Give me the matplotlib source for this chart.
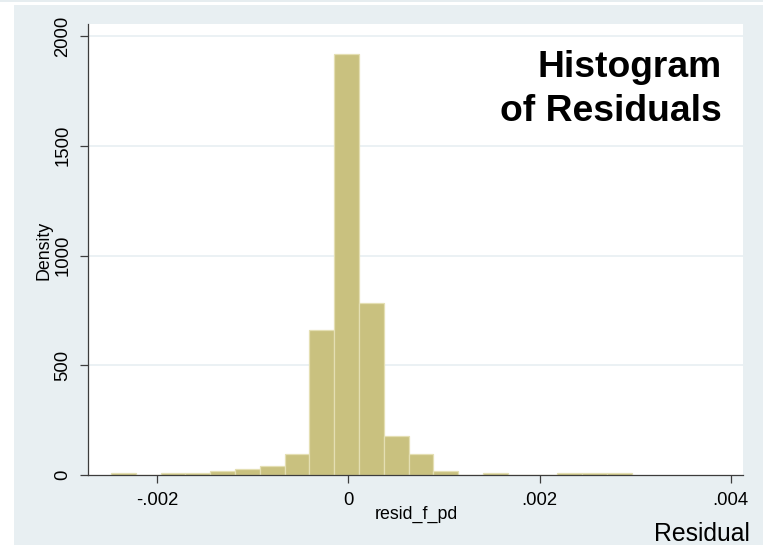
import matplotlib
matplotlib.use("Agg")
import matplotlib.pyplot as plt
from matplotlib.patches import Rectangle

# ---- data ----
bin_start = -0.002482
bin_width = 0.0002594
densities = [8.6, 0, 8.6, 8.6, 17.2, 25.8, 43, 94, 660, 1918, 786, 176, 94, 17.2, 0, 8.6, 0, 0, 8.6, 8.6, 8.6]
x_ticks = [-0.002, 0, 0.002, 0.004]
x_tick_labels = ["-.002", "0", ".002", ".004"]
y_ticks = [0, 500, 1000, 1500, 2000]
y_tick_labels = ["0", "500", "1000", "1500", "2000"]
title_lines = ["Histogram", "of Residuals"]
x_label = "resid_f_pd"
y_label = "Density"
note = "Residual"

W, H = 763, 545
plt.rcParams['font.family'] = ['Liberation Sans', 'DejaVu Sans']
fig = plt.figure(figsize=(W / 100, H / 100), dpi=100)
fig.patch.set_facecolor("white")

def fx(px):
    return px / W

def fy(py):
    return 1 - py / H

panel_col = "#e8eff2"
# top strip and panel
fig.add_artist(Rectangle((0, fy(2)), 1, 2 / H, transform=fig.transFigure,
                         facecolor="#e6edf0", edgecolor="none", zorder=-10))
fig.add_artist(Rectangle((fx(14), 0), 1 - fx(14), fy(5), transform=fig.transFigure,
                         facecolor=panel_col, edgecolor="none", zorder=-10))

ax = fig.add_axes([fx(88), fy(475), fx(742.5) - fx(88), fy(24) - fy(475)])
ax.set_zorder(1)
ax.set_facecolor("white")

lefts = [bin_start + i * bin_width for i in range(len(densities))]
ax.bar(lefts, densities, width=bin_width, align="edge",
       color="#c9c17f", edgecolor="#e4dfb3", linewidth=0.9, zorder=3)

ax.set_xlim(-0.002723, 0.004123)
ax.set_ylim(0, 2055)

ax.set_xticks(x_ticks)
ax.set_xticklabels(x_tick_labels)
ax.set_yticks(y_ticks)
ax.set_yticklabels(y_tick_labels, rotation=90, va="center")

for y in y_ticks[1:]:
    ax.axhline(y, color="#e6eef1", lw=1.1, zorder=1)

for s in ["top", "right"]:
    ax.spines[s].set_visible(False)
for s in ["left", "bottom"]:
    ax.spines[s].set_color("#3c3c3c")
    ax.spines[s].set_linewidth(0.9)
    ax.spines[s].set_zorder(4)

ax.tick_params(axis="both", direction="out", length=6, width=0.9, color="#3c3c3c",
               labelsize=13.3, labelcolor="black")
ax.tick_params(axis="x", pad=6)
ax.tick_params(axis="y", pad=6)

# axis titles
fig.text(fx(416), fy(514), x_label, ha="center", va="center", fontsize=12.8)
fig.text(fx(44), fy(250), y_label, ha="center", va="center", rotation=90, fontsize=12.8)

# title
fig.text(fx(722), fy(77), title_lines[0], ha="right", va="baseline",
         fontsize=26.8, fontweight="bold")
fig.text(fx(722), fy(121), title_lines[1], ha="right", va="baseline",
         fontsize=26.8, fontweight="bold")

# note
fig.text(fx(750), fy(541), note, ha="right", va="baseline", fontsize=17.8)

fig.savefig("out.png", dpi=100, facecolor=fig.get_facecolor())
